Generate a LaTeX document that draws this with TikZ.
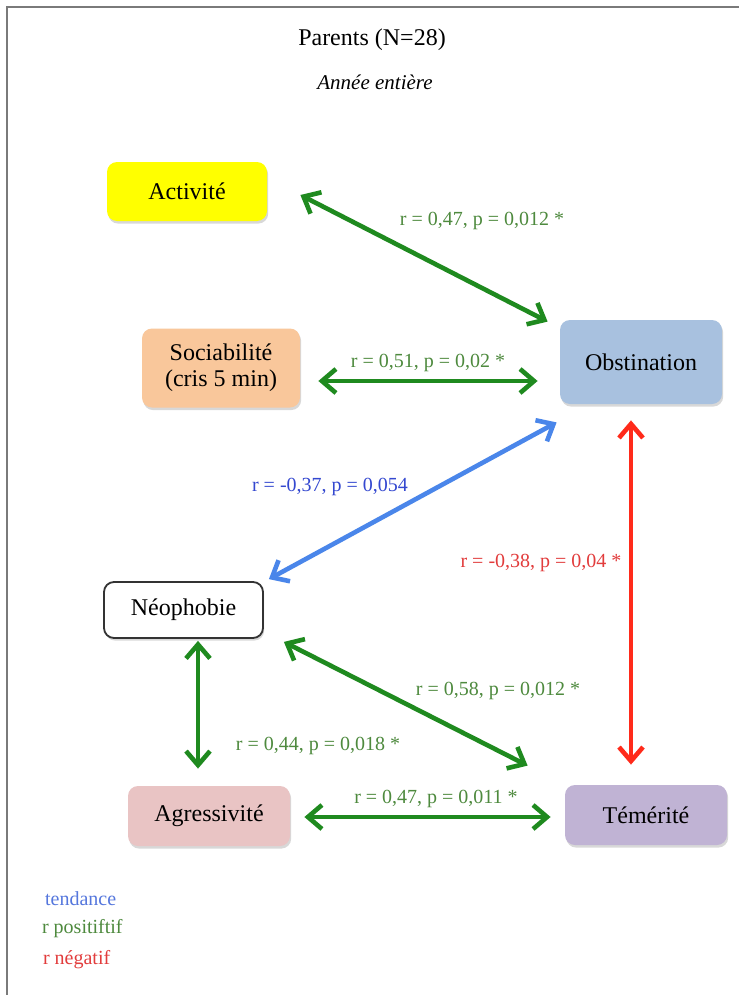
\documentclass[tikz,border=0pt]{standalone}
\usepackage{fontspec}
\setmainfont{Liberation Serif}
\usetikzlibrary{arrows.meta,calc,shadows}

\definecolor{frameGray}{HTML}{7A7A7A}
\definecolor{actYellow}{HTML}{FFFF00}
\definecolor{socPeach}{HTML}{F9C79B}
\definecolor{obsBlue}{HTML}{A8C1DF}
\definecolor{agrPink}{HTML}{E9C4C4}
\definecolor{temLav}{HTML}{C0B3D4}
\definecolor{posGreen}{HTML}{1F8A1F}
\definecolor{posText}{HTML}{4E8A3E}
\definecolor{tendBlue}{HTML}{4A86EA}
\definecolor{tendText}{HTML}{3448D0}
\definecolor{legBlue}{HTML}{5577DD}
\definecolor{negRed}{HTML}{FF2A1A}
\definecolor{negText}{HTML}{E23C3C}

\tikzset{
  trait/.style={rounded corners=5pt, align=center, inner sep=2pt,
    font=\fontsize{12}{13}\selectfont,
    drop shadow={opacity=0.3, shadow xshift=0.6pt, shadow yshift=-1.3pt}},
  link/.style={line width=2.3pt, {Straight Barb[length=7pt,width=12pt]}-{Straight Barb[length=7pt,width=12pt]}},
  stat/.style={font=\fontsize{10}{12}\selectfont},
  legend/.style={font=\fontsize{10}{12}\selectfont, anchor=west}
}

\begin{document}
\begin{tikzpicture}[x=0.5pt,y=-0.5pt]
  \useasboundingbox (0,0) rectangle (739,995);
  \fill[white] (0,0) rectangle (739,995);

  % page frame (top and left edges)
  \draw[frameGray, line width=1.4pt] (7,995) -- (7,7) -- (739,7);

  % titles
  \node[font=\fontsize{12}{14}\selectfont] (title) at (372,40) {Parents (N=28)};
  \node[font=\fontsize{10.5}{12}\selectfont\itshape] (subtitle) at (375,82) {Année entière};

  % traits
  \node[trait, fill=actYellow, minimum width=80pt, minimum height=29.5pt] (act) at (187,191.5) {Activité};
  \node[trait, fill=socPeach, minimum width=79pt, minimum height=39.5pt] (soc) at (221,368) {Sociabilité\\(cris 5 min)};
  \node[trait, fill=obsBlue, minimum width=81pt, minimum height=42pt] (obs) at (641,362) {Obstination};
  \node[trait, fill=white, draw=black!80, line width=0.9pt, minimum width=79.5pt, minimum height=28pt] (neo) at (183.5,610) {Néophobie};
  \node[trait, fill=agrPink, minimum width=81pt, minimum height=30pt] (agr) at (209,816) {Agressivité};
  \node[trait, fill=temLav, minimum width=81pt, minimum height=30pt] (tem) at (646,815) {Témérité};

  % correlations
  \draw[link, posGreen] ($(act.east)+(33,3.5)$) -- ($(obs.north west)+(-12,2)$);
  \draw[link, posGreen] ($(soc.east)+(18,13)$) -- ($(obs.west)+(-22,19)$);
  \draw[link, tendBlue] ($(obs.south west)+(-3,18)$) -- ($(neo.north east)+(5,-2)$);
  \draw[link, negRed] ($(obs.south)+(-10,16)$) -- ($(tem.north)+(-15,-20)$);
  \draw[link, posGreen] ($(neo.south)+(14.5,2)$) -- ($(agr.north)+(-11,-17)$);
  \draw[link, posGreen] ($(neo.south east)+(20,3)$) -- ($(tem.north west)+(-37,-19)$);
  \draw[link, posGreen] ($(agr.east)+(14,1)$) -- ($(tem.west)+(-14,2)$);

  % statistics
  \node[stat, text=posText] (s1) at (482,221) {r = 0,47, p = 0,012 *};
  \node[stat, text=posText] (s2) at (428,363) {r = 0,51, p = 0,02 *};
  \node[stat, text=tendText] (s3) at (330,487) {r = -0,37, p = 0,054};
  \node[stat, text=negText] (s4) at (541,563) {r = -0,38, p = 0,04 *};
  \node[stat, text=posText] (s5) at (498,691) {r = 0,58, p = 0,012 *};
  \node[stat, text=posText] (s6) at (318,746) {r = 0,44, p = 0,018 *};
  \node[stat, text=posText] (s7) at (436,799) {r = 0,47, p = 0,011 *};

  % legend
  \node[legend, text=legBlue] (l1) at (38,899) {tendance};
  \node[legend, text=posText] (l2) at (35,929) {r positiftif};
  \node[legend, text=negText] (l3) at (36,960) {r négatif};
\end{tikzpicture}
\end{document}
